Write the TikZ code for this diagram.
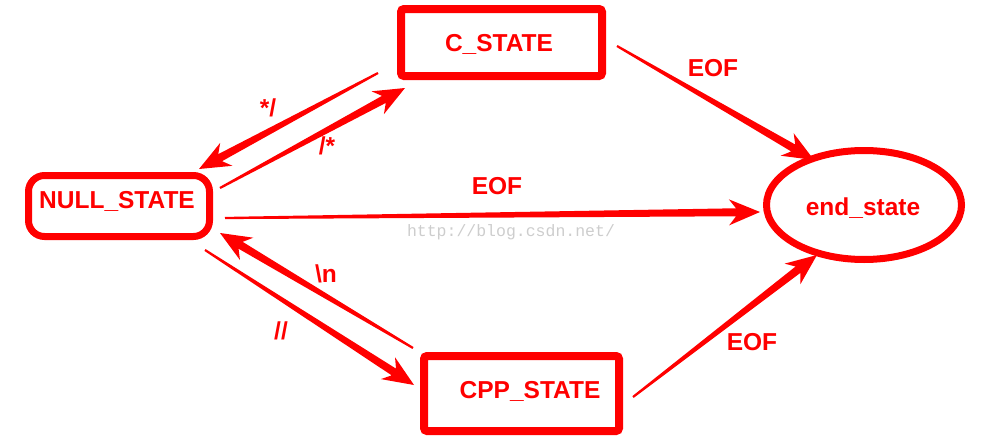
\documentclass[tikz,border=0pt]{standalone}
\usepackage{fontspec}
\setmainfont{Liberation Sans}
\newfontfamily\wmfont{Liberation Mono}
\usetikzlibrary{calc,shapes.geometric}
\definecolor{sred}{RGB}{255,0,0}
\definecolor{wmgray}{RGB}{205,205,205}
\newcommand\taperarrow[2]{%
  \fill[sred] let \p1=(#1), \p2=(#2), \n1={atan2(\y2-\y1,\x2-\x1)} in
    ($(\p1)+(\n1+90:1.1pt)$)
    -- ($(\p2)+(\n1+180:24pt)+(\n1+90:4pt)$)
    -- ($(\p2)+(\n1+180:31pt)+(\n1+90:13pt)$)
    -- (\p2)
    -- ($(\p2)+(\n1+180:31pt)+(\n1-90:13pt)$)
    -- ($(\p2)+(\n1+180:24pt)+(\n1-90:4pt)$)
    -- ($(\p1)+(\n1-90:1.1pt)$) -- cycle;}
\tikzset{
  box/.style={draw=sred, line width=8pt, rounded corners=3pt, inner sep=0pt},
  lbl/.style={text=sred, font=\fontsize{24.5}{28}\selectfont\bfseries, inner sep=0pt},
  wm/.style={text=wmgray, font=\wmfont\fontsize{16.5}{18}\selectfont, inner sep=0pt}
}
\begin{document}
\begin{tikzpicture}[x=1pt,y=-1pt]
\useasboundingbox (0,0) rectangle (988,447);
% states
\node[box, minimum width=201pt, minimum height=67pt] (cstate) at (501.5,42.5) {};
\node[box, line width=7pt, rounded corners=16pt, minimum width=181pt, minimum height=61pt] (null) at (119,206) {};
\node[draw=sred, line width=7pt, ellipse, inner sep=0pt, minimum width=195pt, minimum height=109pt] (endst) at (864,205) {};
\node[box, minimum width=195pt, minimum height=75pt] (cpp) at (521.5,393.5) {};
% watermark
\node[wm] (wmark) at (511,232) {http://blog.csdn.net/};
% texts
\node[lbl] (cs) at (499,44) {C\_STATE};
\node[lbl] (ns) at (117,201) {NULL\_STATE};
\node[lbl] (es) at (863,208) {end\_state};
\node[lbl] (ps) at (530,391) {CPP\_STATE};
\node[lbl] (l1) at (713,68) {EOF};
\node[lbl] (l2) at (497,186) {EOF};
\node[lbl] (l3) at (752,342) {EOF};
\node[lbl] (l4) at (268,108) {*/};
\node[lbl] (l5) at (327,146) {/*};
\node[lbl] (l6) at (326,274) {\textbackslash n};
\node[lbl] (l7) at (281,331) {//};
% connector end points
\coordinate (a1s) at ($(cstate.east)+(11,3.5)$);
\coordinate (a1t) at ($(endst.west)+(51,-45)$);
\coordinate (a2s) at ($(null.east)+(12,12)$);
\coordinate (a2t) at ($(endst.west)+(-3,7)$);
\coordinate (a3s) at ($(cpp.east)+(10,3.5)$);
\coordinate (a3t) at ($(endst.west)+(54,50)$);
\coordinate (a4s) at ($(cstate.south west)+(-19,-7)$);
\coordinate (a4t) at ($(null.north east)+(-14,-3)$);
\coordinate (a5s) at ($(null.north east)+(7,16)$);
\coordinate (a5t) at ($(cstate.south west)+(8,8)$);
\coordinate (a6s) at ($(cpp.north west)+(-7,-4)$);
\coordinate (a6t) at ($(null.south east)+(7,-7)$);
\coordinate (a7s) at ($(null.south east)+(-8,10)$);
\coordinate (a7t) at ($(cpp.north west)+(-6,33)$);
% connectors
\taperarrow{a1s}{a1t}
\taperarrow{a2s}{a2t}
\taperarrow{a3s}{a3t}
\taperarrow{a4s}{a4t}
\taperarrow{a5s}{a5t}
\taperarrow{a6s}{a6t}
\taperarrow{a7s}{a7t}
\end{tikzpicture}
\end{document}
